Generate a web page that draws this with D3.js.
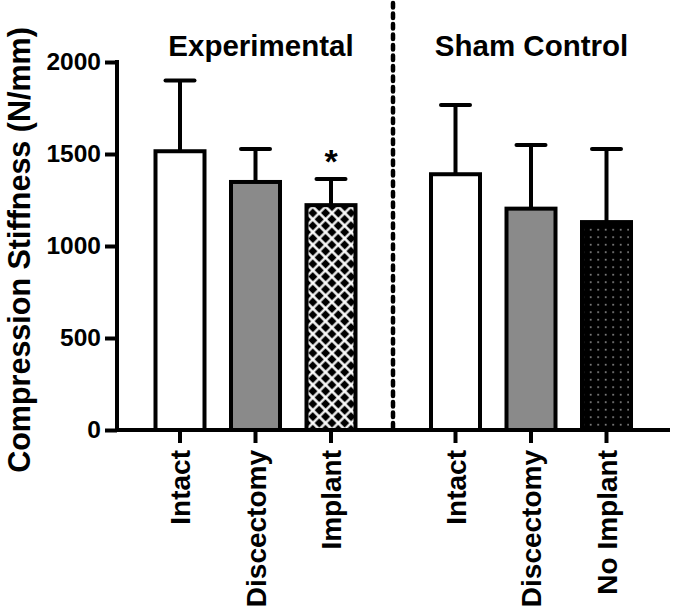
<!DOCTYPE html>
<html><head><meta charset="utf-8">
<script src="https://cdn.jsdelivr.net/npm/d3@7"></script>
<style>
html,body{margin:0;padding:0;background:#fff;}
svg{display:block;font-family:"Liberation Sans",Arial,Helvetica,sans-serif;font-weight:bold;}
</style></head>
<body>
<svg id="chart" width="675" height="609"></svg>
<script>
// ---- data ----
const groups = ["Experimental", "Sham Control"];
const categories = ["Intact", "Discectomy", "Implant", "Intact", "Discectomy", "No Implant"];
const categoryGroup = [0, 0, 0, 1, 1, 1];
const categoryIndex = [0, 1, 2, 0, 1, 2];
const means = [1515, 1348, 1222, 1390, 1203, 1130];
const errors = [385, 179, 142, 376, 346, 397];
const fills = ["white", "grey", "hatch", "white", "grey", "dots"];
const significant = [false, false, true, false, false, false];
const yTicks = [0, 500, 1000, 1500, 2000];
const yTitle = "Compression Stiffness (N/mm)";

// ---- scales ----
const svg = d3.select("#chart");
const y = d3.scaleLinear().domain([0, 2000]).range([430, 62]);
const xGroup = d3.scalePoint().domain(groups).range([255.5, 531]);
const xInner = d3.scalePoint().domain([0, 1, 2]).range([-75.5, 75.5]);
const xc = i => xGroup(groups[categoryGroup[i]]) + xInner(categoryIndex[i]);
const barW = 49;
const axisX = 117, axisY = y(0);

// ---- patterns ----
const defs = svg.append("defs");
const hs = 9;
const hatch = defs.append("pattern").attr("id", "hatch").attr("patternUnits", "userSpaceOnUse")
  .attr("width", hs).attr("height", hs).attr("patternTransform", "translate(1,3) rotate(45)");
hatch.append("rect").attr("width", hs).attr("height", hs).attr("fill", "#000");
hatch.append("path").attr("d", `M0,${hs/2}H${hs}M${hs/2},0V${hs}`).attr("stroke", "#fff").attr("stroke-width", 2.3);

const dots = defs.append("pattern").attr("id", "dots").attr("patternUnits", "userSpaceOnUse")
  .attr("width", 7.5).attr("height", 7.5).attr("x", 2).attr("y", 1);
dots.append("rect").attr("width", 7.5).attr("height", 7.5).attr("fill", "#000");
dots.append("rect").attr("x", 3).attr("y", 3).attr("width", 1.4).attr("height", 1.4).attr("fill", "#c8c8c8");

const fillOf = f => f === "white" ? "#fff" : f === "grey" ? "#8a8a8a" : "url(#" + f + ")";

// ---- divider ----
svg.append("line").attr("x1", 393).attr("x2", 393).attr("y1", 3).attr("y2", axisY)
  .attr("stroke", "#000").attr("stroke-width", 4.5).attr("stroke-linecap", "round")
  .attr("stroke-dasharray", "4.5,6");

// ---- error bars ----
const idx = d3.range(categories.length);
const eb = svg.append("g").attr("stroke", "#000").attr("stroke-width", 4);
eb.selectAll("line.v").data(idx).join("line").attr("class", "v")
  .attr("x1", xc).attr("x2", xc).attr("y1", i => y(means[i])).attr("y2", i => y(means[i] + errors[i]));
eb.selectAll("line.c").data(idx).join("line").attr("class", "c")
  .attr("x1", i => xc(i) - 14.5).attr("x2", i => xc(i) + 14.5)
  .attr("y1", i => y(means[i] + errors[i])).attr("y2", i => y(means[i] + errors[i]))
  .attr("stroke-linecap", "round");

// ---- bars ----
svg.append("g").selectAll("rect").data(idx).join("rect")
  .attr("x", i => xc(i) - barW / 2).attr("width", barW)
  .attr("y", i => y(means[i])).attr("height", i => axisY - y(means[i]))
  .attr("fill", i => fillOf(fills[i])).attr("stroke", "#000").attr("stroke-width", 4);

// ---- significance ----
svg.append("g").selectAll("text").data(idx.filter(i => significant[i])).join("text")
  .attr("x", xc).attr("y", i => y(means[i] + errors[i]) - 6)
  .attr("text-anchor", "middle").attr("font-size", 34).text("*");

// ---- y axis ----
const yAxis = svg.append("g").attr("transform", `translate(${axisX},0)`)
  .call(d3.axisLeft(y).tickValues(yTicks).tickSize(12).tickPadding(4).tickFormat(d3.format("d")));
yAxis.select(".domain").remove();
yAxis.selectAll(".tick line").attr("stroke", "#000").attr("stroke-width", 4);
yAxis.selectAll(".tick text").attr("font-size", 24.5).attr("font-family", null).attr("fill", "#000");
svg.append("line").attr("x1", axisX).attr("x2", axisX).attr("y1", y(2000) - 2).attr("y2", axisY + 2)
  .attr("stroke", "#000").attr("stroke-width", 4);

// ---- x axis ----
svg.append("line").attr("x1", axisX - 2).attr("x2", 670).attr("y1", axisY).attr("y2", axisY)
  .attr("stroke", "#000").attr("stroke-width", 4);
svg.append("g").selectAll("line").data(idx).join("line")
  .attr("x1", xc).attr("x2", xc).attr("y1", axisY).attr("y2", axisY + 13)
  .attr("stroke", "#000").attr("stroke-width", 4);
svg.append("g").selectAll("text").data(idx).join("text")
  .attr("transform", i => `translate(${xc(i) + 10},450) rotate(-90)`)
  .attr("text-anchor", "end").attr("font-size", 28).text(i => categories[i]);

// ---- group titles ----
svg.append("g").selectAll("text").data(groups).join("text")
  .attr("x", (g, k) => k === 0 ? 261 : 531.5).attr("y", 56)
  .attr("text-anchor", "middle").attr("font-size", 29.5).text(g => g);

// ---- y title ----
svg.append("text").attr("transform", "translate(30,250) rotate(-90)")
  .attr("text-anchor", "middle").attr("font-size", 30.5).text(yTitle);
</script>
</body></html>
